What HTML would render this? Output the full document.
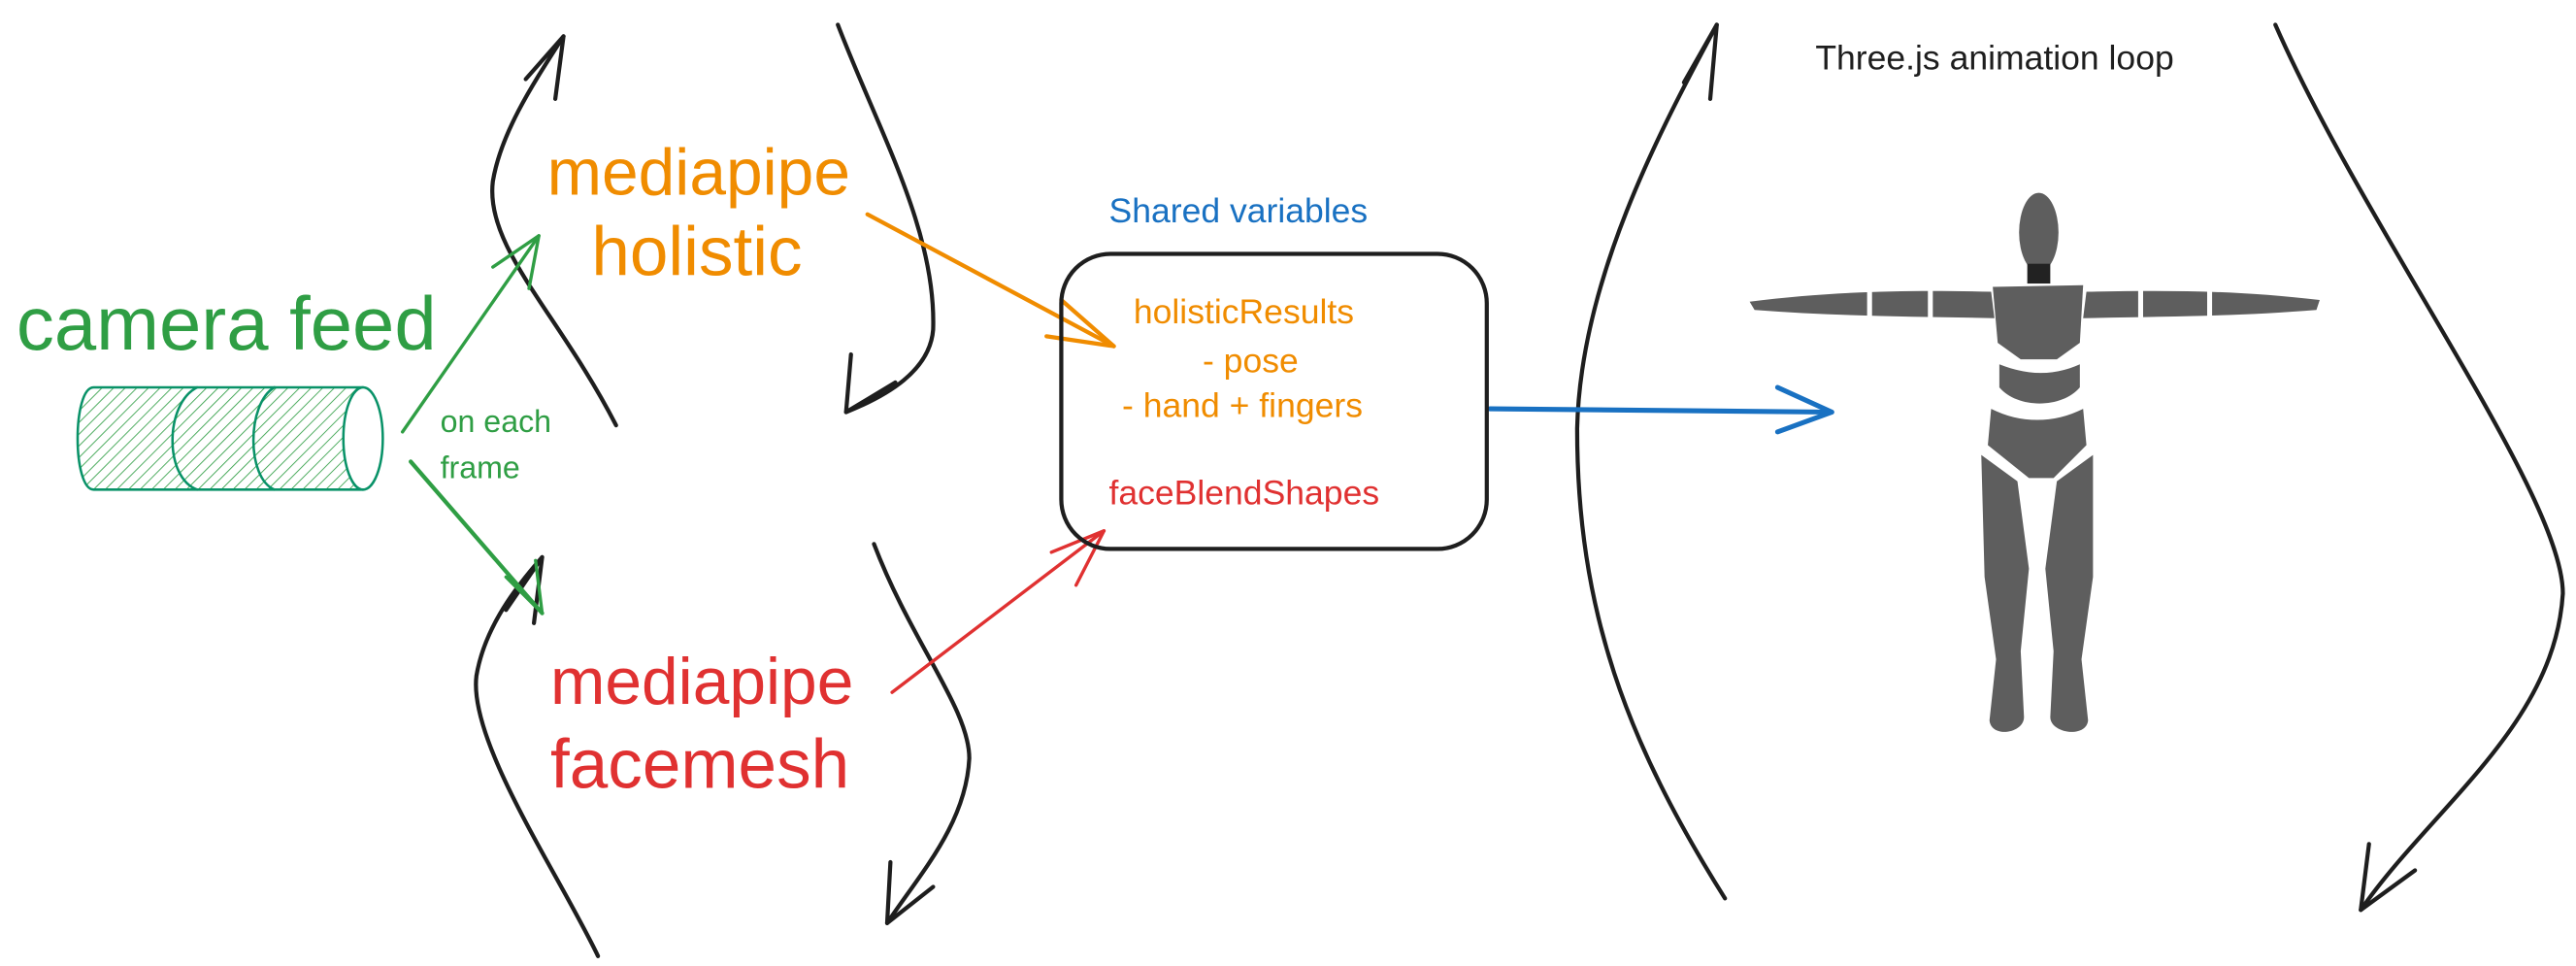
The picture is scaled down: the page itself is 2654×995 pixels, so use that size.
<!DOCTYPE html>
<html><head><meta charset="utf-8"><style>
html,body{margin:0;padding:0;background:#fff;}
svg{display:block;}
text{font-family:"Liberation Sans",sans-serif;}
</style></head><body>
<svg width="2654" height="995" viewBox="0 0 1568 586" preserveAspectRatio="none" xmlns="http://www.w3.org/2000/svg">
<defs>
<pattern id="h" width="5" height="5" patternUnits="userSpaceOnUse" patternTransform="rotate(45)">
<line x1="0" y1="0" x2="0" y2="5" stroke="#2f9e44" stroke-width="1"/>
</pattern>
</defs>
<g fill="none" stroke-linecap="round" stroke-linejoin="round">
<!-- left top loop -->
<path d="M375,258 C340,190 295,150 300,110 C305,80 325,50 343,22" stroke="#1e1e1e" stroke-width="2.5"/>
<path d="M320,48 L343,22 L338,60" stroke="#1e1e1e" stroke-width="2.5"/>
<path d="M510,15 C535,80 570,140 568,200 C566,225 540,240 515,250" stroke="#1e1e1e" stroke-width="2.5"/>
<path d="M518,215 L515,250 L545,232" stroke="#1e1e1e" stroke-width="2.5"/>
<!-- bottom loops -->
<path d="M364,580 C340,530 285,450 290,410 C295,380 315,355 330,338" stroke="#1e1e1e" stroke-width="2.5"/>
<path d="M308,370 L330,338 L325,378" stroke="#1e1e1e" stroke-width="2.5"/>
<path d="M532,330 C555,390 590,430 590,460 C588,500 560,530 540,560" stroke="#1e1e1e" stroke-width="2.5"/>
<path d="M542,523 L540,560 L568,538" stroke="#1e1e1e" stroke-width="2.5"/>
<!-- right big loop -->
<path d="M1050,545 C990,450 960,370 960,260 C962,170 1010,80 1045,15" stroke="#1e1e1e" stroke-width="2.5"/>
<path d="M1025,50 L1045,15 L1041,60" stroke="#1e1e1e" stroke-width="2.5"/>
<path d="M1385,15 C1440,140 1560,300 1560,360 C1555,440 1480,490 1437,552" stroke="#1e1e1e" stroke-width="2.5"/>
<path d="M1442,512 L1437,552 L1470,528" stroke="#1e1e1e" stroke-width="2.5"/>
<!-- green arrows -->
<path d="M245,262 L328,143" stroke="#2f9e44" stroke-width="2"/>
<path d="M300,162 L328,143 L322,175" stroke="#2f9e44" stroke-width="2"/>
<path d="M250,280 L330,372" stroke="#2f9e44" stroke-width="2.5"/>
<path d="M308,350 L330,372 L326,340" stroke="#2f9e44" stroke-width="2"/>
<!-- orange arrow -->
<path d="M528,130 L678,210" stroke="#f08c00" stroke-width="2.5"/>
<path d="M646,182 L678,210 L637,204" stroke="#f08c00" stroke-width="2.5"/>
<!-- red arrow -->
<path d="M543,420 L672,322" stroke="#e03131" stroke-width="2"/>
<path d="M640,335 L672,322 L655,355" stroke="#e03131" stroke-width="2"/>
<!-- blue arrow -->
<path d="M907,248 L1115,250" stroke="#1971c2" stroke-width="3"/>
<path d="M1082,235 L1115,250 L1082,262" stroke="#1971c2" stroke-width="3"/>
<!-- box -->
<rect x="646" y="154" width="259" height="179" rx="30" stroke="#1e1e1e" stroke-width="2.5"/>
<!-- cylinder -->
<path d="M57,235 L221,235 L221,297 L57,297 C44,297 44,235 57,235 Z" fill="url(#h)" stroke="#099268" stroke-width="1.5"/>
<ellipse cx="221" cy="266" rx="12" ry="31" fill="#fff" stroke="#099268" stroke-width="1.5"/>
<path d="M120,235 C100,245 100,290 120,297" stroke="#099268" stroke-width="1.5"/>
<path d="M167,235 C150,245 150,290 167,297" stroke="#099268" stroke-width="1.5"/>
</g>
<!-- texts -->
<text x="10" y="212" font-size="46" fill="#2f9e44">camera feed</text>
<text x="268" y="262" font-size="19" fill="#2f9e44">on each</text>
<text x="268" y="290" font-size="19" fill="#2f9e44">frame</text>
<text x="333" y="118" font-size="40" fill="#f08c00">mediapipe</text>
<text x="360" y="167" font-size="42" fill="#f08c00">holistic</text>
<text x="335" y="427" font-size="40" fill="#e03131">mediapipe</text>
<text x="335" y="478" font-size="42" fill="#e03131">facemesh</text>
<text x="675" y="135" font-size="21" fill="#1971c2">Shared variables</text>
<text x="690" y="196" font-size="21" fill="#f08c00">holisticResults</text>
<text x="732" y="226" font-size="21" fill="#f08c00">- pose</text>
<text x="683" y="253" font-size="21" fill="#f08c00">- hand + fingers</text>
<text x="675" y="306" font-size="21" fill="#e03131">faceBlendShapes</text>
<text x="1105" y="42" font-size="21" fill="#1e1e1e">Three.js animation loop</text>
<!-- figure -->
<g fill="#5e5e5e">
<ellipse cx="1241" cy="141" rx="12" ry="24"/>
<rect x="1234" y="160" width="14" height="12" fill="#222"/>
<path d="M1213,174 L1268,173 L1266,208 L1252,218 L1230,218 L1216,208 Z"/>
<path d="M1065,183 C1120,176 1170,176 1212,177 L1214,193 C1170,192 1120,192 1068,188 Z"/>
<path d="M1270,177 C1320,176 1360,176 1412,182 L1410,188 C1360,192 1320,192 1268,193 Z"/>
<path d="M1217,221 C1235,228 1250,228 1266,221 L1266,235 C1255,248 1228,248 1217,235 Z"/>
<path d="M1212,248 C1230,257 1250,257 1268,248 L1270,270 L1250,290 L1235,290 L1210,270 Z"/>
<path d="M1206,276 L1228,292 L1235,345 L1230,395 L1232,435 C1232,445 1212,448 1211,437 L1215,400 L1208,350 Z"/>
<path d="M1274,276 L1252,292 L1245,345 L1250,395 L1248,435 C1248,445 1270,448 1271,437 L1267,400 L1274,350 Z"/>
</g>
<g stroke="#fff" stroke-width="3">
<line x1="1138" y1="174" x2="1138" y2="195"/>
<line x1="1175" y1="174" x2="1175" y2="195"/>
<line x1="1303" y1="174" x2="1303" y2="195"/>
<line x1="1345" y1="174" x2="1345" y2="195"/>
</g>
</svg>
</body></html>
